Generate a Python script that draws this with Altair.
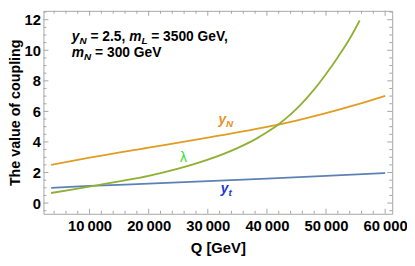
import altair as alt
import pandas as pd

# ---------------- data ----------------
Q_yN = [3500, 10000, 20000, 30000, 40000, 45000, 50000, 55000, 60000]
yN = [2.5, 2.97, 3.63, 4.29, 4.98, 5.4, 5.88, 6.42, 7.02]

Q_yt = [3500, 10000, 20000, 30000, 40000, 50000, 60000]
yt = [1.0, 1.12, 1.27, 1.43, 1.6, 1.78, 1.97]

Q_lam = [3500, 7000, 11000, 15000, 20000, 25000, 30000, 35000, 38000, 40000,
         42000, 44000, 46000, 48000, 50000, 52000, 54000, 55700]
lam = [0.66, 0.88, 1.15, 1.42, 1.78, 2.25, 2.84, 3.6, 4.17, 4.63,
       5.16, 5.8, 6.56, 7.44, 8.45, 9.55, 10.75, 11.95]

series = ["y_t", "y_N", "lambda"]
colors = ["#5E81B5", "#E19C24", "#8FB032"]

x_major = [10000, 20000, 30000, 40000, 50000, 60000]
x_minor = [v for v in range(4000, 61000, 2000) if v % 10000 != 0]
y_major = [0, 2, 4, 6, 8, 10, 12]
y_minor = [v / 2 for v in range(-1, 26) if v % 4 != 0]

rows = []
for q, v in zip(Q_yt, yt):
    rows.append({"Q": q, "v": v, "s": "y_t"})
for q, v in zip(Q_yN, yN):
    rows.append({"Q": q, "v": v, "s": "y_N"})
for q, v in zip(Q_lam, lam):
    rows.append({"Q": q, "v": v, "s": "lambda"})
df = pd.DataFrame(rows)

W, H = 354, 206
FONT = "Liberation Sans"
GRAY = "#a6a6a6"

xs = alt.Scale(domain=[2200, 61200], nice=False, zero=False)
ys = alt.Scale(domain=[-0.7, 12.58], nice=False, zero=False)

main = alt.Chart(df).mark_line(strokeWidth=1.8, interpolate="monotone").encode(
    x=alt.X("Q:Q", scale=xs, axis=alt.Axis(
        orient="bottom", values=x_major, ticks=False, domain=False, grid=False,
        labelFont=FONT, labelFontSize=15, labelFontWeight="bold", labelColor="black",
        labelPadding=5, labelFlush=False, labelOverlap=False,
        labelExpr="replace(format(datum.value, ','), ',', '\u2009')",
        title="Q [GeV]", titleFont=FONT, titleFontSize=15, titleFontWeight="bold",
        titleColor="black", titlePadding=7)),
    y=alt.Y("v:Q", scale=ys, axis=alt.Axis(
        orient="left", values=y_major, ticks=False, domain=False, grid=False,
        labelFont=FONT, labelFontSize=15, labelFontWeight="bold", labelColor="black",
        labelPadding=3, labelFlush=False, labelOverlap=False,
        title="The value of coupling", titleFont=FONT, titleFontSize=14.5,
        titleFontWeight="bold", titleColor="black", titlePadding=2)),
    color=alt.Color("s:N", scale=alt.Scale(domain=series, range=colors), legend=None),
)


def xticks(vals, y0, y1):
    return alt.Chart(pd.DataFrame({"Q": vals})).mark_rule(color=GRAY, strokeWidth=1).encode(
        x=alt.X("Q:Q", scale=xs, axis=None),
        y=alt.value(y0), y2=alt.value(y1),
    )


def yticks(vals, x0, x1):
    return alt.Chart(pd.DataFrame({"v": vals})).mark_rule(color=GRAY, strokeWidth=1).encode(
        y=alt.Y("v:Q", scale=ys, axis=None),
        x=alt.value(x0), x2=alt.value(x1),
    )


MAJ, MIN = 5, 3
ticks = [
    xticks(x_major, H, H - MAJ), xticks(x_minor, H, H - MIN),
    xticks(x_major, 0, MAJ), xticks(x_minor, 0, MIN),
    yticks(y_major, 0, MAJ), yticks(y_minor, 0, MIN),
    yticks(y_major, W, W - MAJ), yticks(y_minor, W, W - MIN),
]


def txt(q, v, text, dx=0, dy=0, size=14, color="black", italic=False, bold=True):
    return alt.Chart(pd.DataFrame({"Q": [q], "v": [v]})).mark_text(
        text=text, dx=dx, dy=dy, fontSize=size, color=color, font=FONT,
        fontStyle="italic" if italic else "normal",
        fontWeight="bold" if bold else "normal",
        align="left", baseline="alphabetic",
    ).encode(
        x=alt.X("Q:Q", scale=xs, axis=None),
        y=alt.Y("v:Q", scale=ys, axis=None),
    )


# annotation text (top-left)
ann_q = 7000
r1, r2 = 10.6, 9.55
labels = [
    txt(ann_q, r1, "y", 0, 0, italic=True),
    txt(ann_q, r1, "N", 7.8, 3, size=10, italic=True),
    txt(ann_q, r1, "= 2.5,", 18.9, 0),
    txt(ann_q, r1, "m", 58.2, 0, italic=True),
    txt(ann_q, r1, "L", 70.6, 3, size=10, italic=True),
    txt(ann_q, r1, "= 3500 GeV,", 80.6, 0),
    txt(ann_q, r2, "m", 0, 0, italic=True),
    txt(ann_q, r2, "N", 12.45, 3, size=10, italic=True),
    txt(ann_q, r2, "= 300 GeV", 23.6, 0),
    # curve labels
    txt(31800, 5.18, "y", 0, 0, color="#E8902A", italic=True),
    txt(31800, 5.18, "N", 7.8, 3, size=10, color="#E8902A", italic=True),
    txt(25300, 2.72, "\u03bb", 0, 0, color="#33DD33", bold=False),
    txt(32200, 0.64, "y", 0, 0, color="#2233DD", italic=True),
    txt(32200, 0.64, "t", 7.8, 3, size=10, color="#2233DD", italic=True),
]

chart = alt.layer(main, *ticks, *labels).resolve_axis(
    x="independent", y="independent"
).properties(
    width=W, height=H,
    autosize=alt.AutoSizeParams(type="none"),
    padding={"left": 36, "top": 1, "right": 15, "bottom": 43},
).configure_view(stroke=GRAY, strokeWidth=1)

chart.save("out.html", embed_options={"renderer": "svg", "actions": False})
